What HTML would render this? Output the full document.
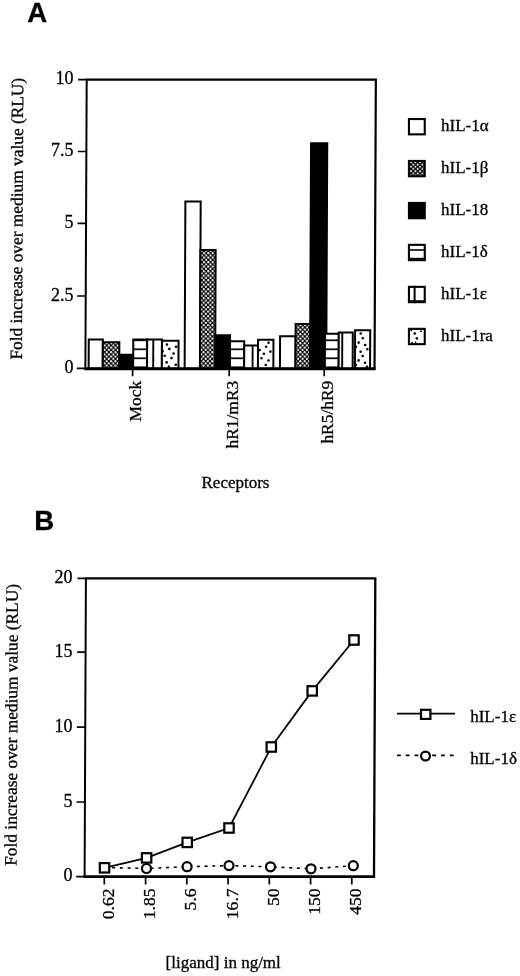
<!DOCTYPE html>
<html><head><meta charset="utf-8"><style>
html,body{margin:0;padding:0;background:#fff;}
svg{display:block;will-change:transform;}
.t{font-family:"Liberation Serif", serif;font-size:17px;fill:#000;stroke:#000;stroke-width:0.3px;}
.n{font-family:"Liberation Serif", serif;font-size:18px;fill:#000;stroke:#000;stroke-width:0.3px;}
.r{font-family:"Liberation Serif", serif;font-size:17.4px;fill:#000;stroke:#000;stroke-width:0.3px;}
.r2{font-family:"Liberation Serif", serif;font-size:17.6px;fill:#000;stroke:#000;stroke-width:0.3px;}
.y{font-family:"Liberation Serif", serif;font-size:17.35px;fill:#000;stroke:#000;stroke-width:0.3px;}
.L{font-family:"Liberation Sans",sans-serif;font-weight:bold;font-size:27.6px;fill:#000;stroke:#000;stroke-width:0.3px;}
</style></head><body>
<svg width="520" height="976" viewBox="0 0 520 976">
<defs>
<pattern id="pd" patternUnits="userSpaceOnUse" width="4.4" height="4.5"><rect width="4.4" height="4.5" fill="#000"/><circle cx="1.1" cy="1.1" r="1.1" fill="#fff"/><circle cx="3.3" cy="3.35" r="1.1" fill="#fff"/></pattern>
<pattern id="pdl" patternUnits="userSpaceOnUse" x="409.9" y="161.3" width="4.5" height="4.4"><rect width="4.5" height="4.4" fill="#000"/><circle cx="1.1" cy="1.1" r="1.0" fill="#fff"/><circle cx="3.35" cy="3.3" r="1.0" fill="#fff"/></pattern>
<pattern id="ph" patternUnits="userSpaceOnUse" width="9" height="9"><rect width="9" height="9" fill="#fff"/><rect y="6.5" width="9" height="1.7" fill="#000"/></pattern>
</defs>
<g transform="matrix(1,0,-0.0045,1,1.597,0)">
<path d="M85.45 79.7 L374.6 79.7 L374.6 368.8" fill="none" stroke="#000" stroke-width="2.2" stroke-linejoin="miter"/>
<rect x="88.70" y="339.50" width="14.10" height="29.30" fill="#fff" stroke="#000" stroke-width="2.0"/>
<rect x="102.80" y="342.30" width="16.50" height="26.50" fill="url(#pd)" stroke="#000" stroke-width="2.0"/>
<rect x="119.30" y="354.80" width="13.90" height="14.00" fill="#000" stroke="#000" stroke-width="2.0"/>
<rect x="133.20" y="339.50" width="13.90" height="29.30" fill="url(#ph)" stroke="#000" stroke-width="2.0"/>
<rect x="147.10" y="339.50" width="14.80" height="29.30" fill="#fff" stroke="#000" stroke-width="2.0"/>
<line x1="153.25" y1="339.5" x2="153.25" y2="368.8" stroke="#000" stroke-width="1.9"/>
<rect x="161.90" y="340.80" width="16.60" height="28.00" fill="#fff" stroke="#000" stroke-width="2.0"/>
<circle cx="166.9" cy="344.6" r="1.3" fill="#000"/>
<circle cx="169.3" cy="348.9" r="1.3" fill="#000"/>
<circle cx="176" cy="346.8" r="1.3" fill="#000"/>
<circle cx="162.6" cy="351.3" r="1.3" fill="#000"/>
<circle cx="173.6" cy="353.5" r="1.3" fill="#000"/>
<circle cx="164.7" cy="355.7" r="1.3" fill="#000"/>
<circle cx="171.5" cy="358.1" r="1.3" fill="#000"/>
<circle cx="166.7" cy="362.4" r="1.3" fill="#000"/>
<circle cx="175.8" cy="364.8" r="1.3" fill="#000"/>
<circle cx="169" cy="366.7" r="1.3" fill="#000"/>
<rect x="184.70" y="201.50" width="15.30" height="167.30" fill="#fff" stroke="#000" stroke-width="2.0"/>
<rect x="200.00" y="250.00" width="15.20" height="118.80" fill="url(#pd)" stroke="#000" stroke-width="2.0"/>
<rect x="215.00" y="335.20" width="15.00" height="33.60" fill="#000" stroke="#000" stroke-width="2.0"/>
<rect x="230.00" y="341.20" width="14.20" height="27.60" fill="url(#ph)" stroke="#000" stroke-width="2.0"/>
<rect x="244.20" y="345.50" width="13.80" height="23.30" fill="#fff" stroke="#000" stroke-width="2.0"/>
<line x1="252.6" y1="345.5" x2="252.6" y2="368.8" stroke="#000" stroke-width="1.9"/>
<rect x="258.00" y="339.80" width="15.40" height="29.00" fill="#fff" stroke="#000" stroke-width="2.0"/>
<circle cx="268.5" cy="342.7" r="1.3" fill="#000"/>
<circle cx="266.1" cy="346.8" r="1.3" fill="#000"/>
<circle cx="270.4" cy="351.6" r="1.3" fill="#000"/>
<circle cx="263.9" cy="353.75" r="1.3" fill="#000"/>
<circle cx="261.5" cy="358.3" r="1.3" fill="#000"/>
<circle cx="268.5" cy="360.5" r="1.3" fill="#000"/>
<circle cx="265.8" cy="365" r="1.3" fill="#000"/>
<circle cx="259.6" cy="350" r="1.3" fill="#000"/>
<rect x="280.00" y="336.30" width="15.50" height="32.50" fill="#fff" stroke="#000" stroke-width="2.0"/>
<rect x="295.50" y="324.00" width="14.70" height="44.80" fill="url(#pd)" stroke="#000" stroke-width="2.0"/>
<rect x="310.10" y="143.30" width="16.20" height="225.50" fill="#000" stroke="#000" stroke-width="2.0"/>
<rect x="324.90" y="333.80" width="13.80" height="35.00" fill="url(#ph)" stroke="#000" stroke-width="2.0"/>
<rect x="338.70" y="332.40" width="14.00" height="36.40" fill="#fff" stroke="#000" stroke-width="2.0"/>
<line x1="342.2" y1="332.4" x2="342.2" y2="368.8" stroke="#000" stroke-width="1.9"/>
<rect x="355.00" y="330.20" width="15.10" height="38.60" fill="#fff" stroke="#000" stroke-width="2.0"/>
<circle cx="360.6" cy="333.5" r="1.3" fill="#000"/>
<circle cx="362.7" cy="338.3" r="1.3" fill="#000"/>
<circle cx="358.6" cy="342.6" r="1.3" fill="#000"/>
<circle cx="365.1" cy="345" r="1.3" fill="#000"/>
<circle cx="355.8" cy="346.9" r="1.3" fill="#000"/>
<circle cx="367.3" cy="349.3" r="1.3" fill="#000"/>
<circle cx="360.6" cy="351.7" r="1.3" fill="#000"/>
<circle cx="362.7" cy="356" r="1.3" fill="#000"/>
<circle cx="358.6" cy="360.4" r="1.3" fill="#000"/>
<circle cx="365.1" cy="362.8" r="1.3" fill="#000"/>
<circle cx="355.8" cy="365" r="1.3" fill="#000"/>
<circle cx="367" cy="366.9" r="1.3" fill="#000"/>
<line x1="85.45" y1="78.7" x2="85.45" y2="369.8" stroke="#000" stroke-width="2"/>
<line x1="84.45" y1="368.8" x2="375.70000000000005" y2="368.8" stroke="#000" stroke-width="2.9"/>
<line x1="76.9" y1="79.7" x2="85.45" y2="79.7" stroke="#000" stroke-width="1.7"/>
<line x1="76.9" y1="151.5" x2="85.45" y2="151.5" stroke="#000" stroke-width="1.7"/>
<line x1="76.9" y1="223.4" x2="85.45" y2="223.4" stroke="#000" stroke-width="1.7"/>
<line x1="76.9" y1="296" x2="85.45" y2="296" stroke="#000" stroke-width="1.7"/>
<line x1="76.9" y1="368.4" x2="85.45" y2="368.4" stroke="#000" stroke-width="1.7"/>
<line x1="132.7" y1="368.8" x2="132.7" y2="376.3" stroke="#000" stroke-width="1.7"/>
<line x1="229.3" y1="368.8" x2="229.3" y2="376.3" stroke="#000" stroke-width="1.7"/>
<line x1="324.3" y1="368.8" x2="324.3" y2="376.3" stroke="#000" stroke-width="1.7"/>
</g>
<text x="73.6" y="84.3" text-anchor="end" class="n">10</text>
<text x="73.6" y="156.1" text-anchor="end" class="n">7.5</text>
<text x="73.6" y="228.0" text-anchor="end" class="n">5</text>
<text x="73.6" y="300.6" text-anchor="end" class="n">2.5</text>
<text x="73.6" y="373.0" text-anchor="end" class="n">0</text>
<text transform="translate(141.4,380.8) rotate(-90)" text-anchor="end" class="r">Mock</text>
<text transform="translate(238.0,380.8) rotate(-90)" text-anchor="end" class="r">hR1/mR3</text>
<text transform="translate(333.0,380.8) rotate(-90)" text-anchor="end" class="r">hR5/hR9</text>
<text x="201.5" y="487.6" class="t">Receptors</text>
<text transform="translate(21.9,359.6) rotate(-89.72)" class="y">Fold increase over medium value (RLU)</text>
<text x="27.3" y="22.2" class="L">A</text>
<rect x="408.95" y="119.05" width="15.80" height="15.30" fill="#fff" stroke="#000" stroke-width="2.1"/>
<text x="441" y="130.9" class="t">hIL-1α</text>
<rect x="408.95" y="160.95" width="15.80" height="15.30" fill="url(#pdl)" stroke="#000" stroke-width="2.1"/>
<text x="441" y="172.8" class="t">hIL-1β</text>
<rect x="408.95" y="202.95" width="15.80" height="15.30" fill="#000" stroke="#000" stroke-width="2.1"/>
<text x="441" y="214.8" class="t">hIL-18</text>
<rect x="408.95" y="244.85" width="15.80" height="15.30" fill="#fff" stroke="#000" stroke-width="2.1"/>
<line x1="407.9" y1="250" x2="425.8" y2="250" stroke="#000" stroke-width="1.6"/>
<line x1="407.9" y1="258.6" x2="425.8" y2="258.6" stroke="#000" stroke-width="1.6"/>
<text x="441" y="256.7" class="t">hIL-1δ</text>
<rect x="408.95" y="286.85" width="15.80" height="15.30" fill="#fff" stroke="#000" stroke-width="2.1"/>
<line x1="414.6" y1="285.8" x2="414.6" y2="303.2" stroke="#000" stroke-width="2.0"/>
<line x1="407.9" y1="300.8" x2="425.8" y2="300.8" stroke="#000" stroke-width="1.2"/>
<text x="441" y="298.7" class="t">hIL-1ε</text>
<rect x="408.95" y="328.85" width="15.80" height="15.30" fill="#fff" stroke="#000" stroke-width="2.1"/>
<circle cx="414.75" cy="333.5" r="1.3" fill="#000"/>
<circle cx="416.9" cy="338.4" r="1.3" fill="#000"/>
<circle cx="421" cy="331.2" r="0.9" fill="#000"/>
<circle cx="411.2" cy="330.4" r="0.9" fill="#000"/>
<circle cx="412.1" cy="342.6" r="0.9" fill="#000"/>
<circle cx="415.6" cy="342.4" r="0.8" fill="#000"/>
<text x="441" y="340.7" class="t">hIL-1ra</text>
<g transform="matrix(1,0,-0.0044,1,3.859,0)">
<path d="M84.6 578.4 L374.0 578.4 L374.0 876.7" fill="none" stroke="#000" stroke-width="2.3" stroke-linejoin="miter"/>
<line x1="84.6" y1="577.4" x2="84.6" y2="877.7" stroke="#000" stroke-width="2"/>
<line x1="83.6" y1="876.7" x2="375.15" y2="876.7" stroke="#000" stroke-width="2.8"/>
<line x1="76.2" y1="578.4" x2="84.6" y2="578.4" stroke="#000" stroke-width="1.7"/>
<line x1="76.2" y1="652.2" x2="84.6" y2="652.2" stroke="#000" stroke-width="1.7"/>
<line x1="76.2" y1="727.1" x2="84.6" y2="727.1" stroke="#000" stroke-width="1.7"/>
<line x1="76.2" y1="802" x2="84.6" y2="802" stroke="#000" stroke-width="1.7"/>
<line x1="76.2" y1="876.7" x2="84.6" y2="876.7" stroke="#000" stroke-width="1.7"/>
</g>
<text x="72.6" y="583.0" text-anchor="end" class="n">20</text>
<text x="72.6" y="656.8" text-anchor="end" class="n">15</text>
<text x="72.6" y="731.7" text-anchor="end" class="n">10</text>
<text x="72.6" y="806.6" text-anchor="end" class="n">5</text>
<text x="72.6" y="881.3" text-anchor="end" class="n">0</text>
<line x1="104.3" y1="876.7" x2="104.3" y2="884.5" stroke="#000" stroke-width="1.7"/>
<text transform="translate(113.8,888.4) rotate(-90)" text-anchor="end" class="r2">0.62</text>
<line x1="145.6" y1="876.7" x2="145.6" y2="884.5" stroke="#000" stroke-width="1.7"/>
<text transform="translate(155.1,888.4) rotate(-90)" text-anchor="end" class="r2">1.85</text>
<line x1="186.8" y1="876.7" x2="186.8" y2="884.5" stroke="#000" stroke-width="1.7"/>
<text transform="translate(196.3,888.4) rotate(-90)" text-anchor="end" class="r2">5.6</text>
<line x1="228.1" y1="876.7" x2="228.1" y2="884.5" stroke="#000" stroke-width="1.7"/>
<text transform="translate(237.6,888.4) rotate(-90)" text-anchor="end" class="r2">16.7</text>
<line x1="269.3" y1="876.7" x2="269.3" y2="884.5" stroke="#000" stroke-width="1.7"/>
<text transform="translate(278.8,888.4) rotate(-90)" text-anchor="end" class="r2">50</text>
<line x1="310.6" y1="876.7" x2="310.6" y2="884.5" stroke="#000" stroke-width="1.7"/>
<text transform="translate(320.1,888.4) rotate(-90)" text-anchor="end" class="r2">150</text>
<line x1="351.8" y1="876.7" x2="351.8" y2="884.5" stroke="#000" stroke-width="1.7"/>
<text transform="translate(361.3,888.4) rotate(-90)" text-anchor="end" class="r2">450</text>
<polyline points="104.5,867.5 146.5,868.5 187.1,866.7 229,865.6 270.5,866.8 311,868.8 353.3,865.7" fill="none" stroke="#000" stroke-width="1.6" stroke-dasharray="3 4.7"/>
<circle cx="104.5" cy="867.5" r="4.5" fill="#fff" stroke="#000" stroke-width="2.2"/>
<circle cx="146.5" cy="868.5" r="4.5" fill="#fff" stroke="#000" stroke-width="2.2"/>
<circle cx="187.1" cy="866.7" r="4.5" fill="#fff" stroke="#000" stroke-width="2.2"/>
<circle cx="229" cy="865.6" r="4.5" fill="#fff" stroke="#000" stroke-width="2.2"/>
<circle cx="270.5" cy="866.8" r="4.5" fill="#fff" stroke="#000" stroke-width="2.2"/>
<circle cx="311" cy="868.8" r="4.5" fill="#fff" stroke="#000" stroke-width="2.2"/>
<circle cx="353.3" cy="865.7" r="4.5" fill="#fff" stroke="#000" stroke-width="2.2"/>
<polyline points="104.5,867.8 146.6,857.9 187.2,842.4 229,828 271.3,747 312.2,690.9 354,640" fill="none" stroke="#000" stroke-width="1.75"/>
<rect x="99.8" y="863.1" width="9.4" height="9.4" fill="#fff" stroke="#000" stroke-width="2.2"/>
<rect x="141.9" y="853.2" width="9.4" height="9.4" fill="#fff" stroke="#000" stroke-width="2.2"/>
<rect x="182.5" y="837.7" width="9.4" height="9.4" fill="#fff" stroke="#000" stroke-width="2.2"/>
<rect x="224.3" y="823.3" width="9.4" height="9.4" fill="#fff" stroke="#000" stroke-width="2.2"/>
<rect x="266.6" y="742.3" width="9.4" height="9.4" fill="#fff" stroke="#000" stroke-width="2.2"/>
<rect x="307.5" y="686.2" width="9.4" height="9.4" fill="#fff" stroke="#000" stroke-width="2.2"/>
<rect x="349.3" y="635.3" width="9.4" height="9.4" fill="#fff" stroke="#000" stroke-width="2.2"/>
<line x1="397" y1="713.6" x2="455" y2="713.6" stroke="#000" stroke-width="1.8"/>
<rect x="421.0" y="709.8" width="9.4" height="9.1" fill="#fff" stroke="#000" stroke-width="2.2"/>
<line x1="397" y1="755.3" x2="455" y2="755.3" stroke="#000" stroke-width="1.7" stroke-dasharray="3.8 5"/>
<circle cx="425.5" cy="756" r="4.45" fill="#fff" stroke="#000" stroke-width="2.2"/>
<text x="470.2" y="722" class="t">hIL-1ε</text>
<text x="470.2" y="764" class="t">hIL-1δ</text>
<text x="165.6" y="967.9" class="t">[ligand] in ng/ml</text>
<text transform="translate(16.4,865.8) rotate(-89.68)" class="y">Fold increase over medium value (RLU)</text>
<text x="34.3" y="530.2" class="L">B</text>
</svg>
</body></html>
